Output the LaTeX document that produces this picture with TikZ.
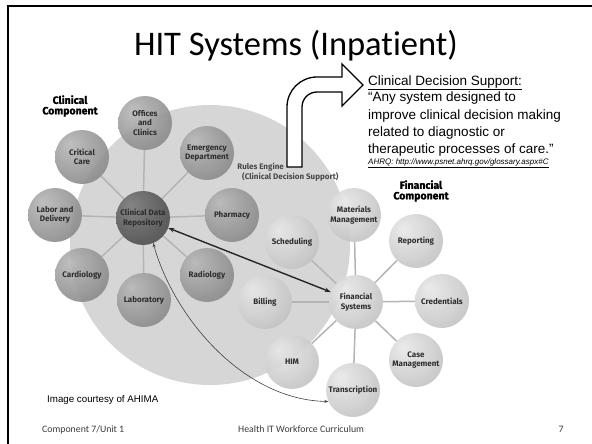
\documentclass[tikz,border=0pt]{standalone}
\usepackage{fontspec}
\setmainfont{Liberation Sans}
\newfontfamily\calibri{Carlito}[Ligatures=NoCommon]
\newfontfamily\ballfont{Fira Sans}
\newfontfamily\headfont{Fira Sans}[BoldFeatures={FakeBold=1.5}]
\usetikzlibrary{arrows.meta,backgrounds}
\definecolor{bigc}{HTML}{D6D6D6}
\definecolor{spokec}{HTML}{B4B4B4}
\definecolor{clinA}{HTML}{B8B8B8}
\definecolor{clinB}{HTML}{969696}
\definecolor{clinC}{HTML}{6C6C6C}
\definecolor{finA}{HTML}{E8E8E8}
\definecolor{finB}{HTML}{CDCDCD}
\definecolor{finC}{HTML}{A8A8A8}
\definecolor{cdrA}{HTML}{7C7C7C}
\definecolor{cdrB}{HTML}{585858}
\definecolor{cdrC}{HTML}{343434}
\definecolor{lbl}{HTML}{2E2E2E}
\definecolor{foot}{HTML}{3A3A3A}
\pgfdeclareradialshading{clinshade}{\pgfpoint{-12bp}{12bp}}{color(0bp)=(clinA); color(25bp)=(clinB); color(55bp)=(clinC); color(75bp)=(clinC)}
\pgfdeclareradialshading{finshade}{\pgfpoint{-12bp}{12bp}}{color(0bp)=(finA); color(25bp)=(finB); color(55bp)=(finC); color(75bp)=(finC)}
\pgfdeclareradialshading{cdrshade}{\pgfpoint{-12bp}{12bp}}{color(0bp)=(cdrA); color(25bp)=(cdrB); color(55bp)=(cdrC); color(75bp)=(cdrC)}
\tikzset{
  ball/.style={circle, minimum size=54pt, inner sep=0pt, align=center,
    font=\ballfont\bfseries\fontsize{8}{9.5}\selectfont, text=lbl,
    shade, shading=clinshade, fill opacity=0.9, text opacity=1},
  finball/.style={ball, shading=finshade},
  cdrball/.style={ball, shading=cdrshade},
  spoke/.style={draw=spokec, line width=1.5pt},
  heading/.style={align=center, inner sep=0pt, text=black,
    font=\headfont\bfseries\fontsize{10.5}{10.5}\selectfont},
  rules/.style={inner sep=0pt, text=black!72,
    font=\ballfont\bfseries\fontsize{8}{9}\selectfont},
  cds/.style={anchor=base west, inner sep=0pt, font=\fontsize{13.5}{16}\selectfont},
  footer/.style={anchor=base, inner sep=0pt, text=foot, font=\calibri\fontsize{9.8}{11}\selectfont},
  blockarrow/.style={draw=black, fill=white, line width=1.3pt, line join=miter}
}
\begin{document}
\begin{tikzpicture}[x=1pt,y=-1pt]
\useasboundingbox (0,0) rectangle (592,444);
% slide frame
\coordinate (fa) at (8,450);
\coordinate (fb) at (8,6);
\coordinate (fc) at (600,6);
\draw[line width=2pt] (fa) -- (fb) -- (fc);
% title
\node[anchor=base, inner sep=0pt, font=\calibri\fontsize{34.5}{38}\selectfont] (title) at (296,56) {HIT Systems (Inpatient)};
% clinical balls
\node[ball] (offices) at (145,123) {Offices\\and\\Clinics};
\node[ball] (critical) at (82,157) {Critical\\Care};
\node[ball] (emergency) at (207,153) {Emergency\\Department};
\node[ball] (labor) at (55,215) {Labor and\\Delivery};
\node[cdrball] (cdr) at (143,218) {Clinical Data\\Repository};
\node[ball] (pharmacy) at (232,215) {Pharmacy};
\node[ball] (cardiology) at (82,275) {Cardiology};
\node[ball] (laboratory) at (144,300) {Laboratory};
\node[ball] (radiology) at (207,275) {Radiology};
% financial balls
\node[finball] (scheduling) at (292,242) {Scheduling};
\node[finball] (billing) at (265,302) {Billing};
\node[finball] (materials) at (354,215) {Materials\\Management};
\node[finball] (reporting) at (416,241) {Reporting};
\node[finball] (fin) at (356,302) {Financial\\Systems};
\node[finball] (credentials) at (442,301) {Credentials};
\node[finball] (him) at (292,362) {HIM};
\node[finball] (casemgmt) at (416,360) {Case\\Management};
\node[finball] (transcription) at (353,390) {Transcription};
% background circle and spokes
\begin{scope}[on background layer]
  \fill[bigc] (210,245) circle[radius=140];
  \foreach \n in {offices,critical,emergency,labor,pharmacy,cardiology,laboratory,radiology}
    \draw[spoke] (cdr) -- (\n);
  \foreach \n in {scheduling,billing,materials,reporting,credentials,him,casemgmt,transcription}
    \draw[spoke] (fin) -- (\n);
\end{scope}
% headings
\node[heading] (clinhead) at (70,106) {Clinical\\Component};
\node[heading] (finhead) at (421,191) {Financial\\Component};
\node[rules, anchor=base east] (rules1) at (284,169) {Rules Engine};
\node[rules, anchor=base west] (rules2) at (242,179) {(Clinical Decision Support)};
% arrows between repositories
\draw[{Stealth[length=6pt,width=4.5pt]}-{Stealth[length=6pt,width=4.5pt]}, line width=1.4pt, draw=black!85] (cdr) -- (fin);
\draw[{Stealth[length=4pt,width=3pt]}-{Stealth[length=4pt,width=3pt]}, line width=0.6pt, draw=black!75] (cdr.-68) .. controls (175,320) and (245,400) .. (transcription.205);
% block arrow callout
\draw[blockarrow] (287,167) -- (287,107) .. controls (287,90.4) and (300.4,77) .. (317,77)
  -- (342,77) -- (342,64) -- (363,85) -- (342,106) -- (342,92) -- (317,92)
  .. controls (308.7,92) and (302,98.7) .. (302,107) -- (302,167) -- cycle;
% definition text
\node[cds] (cds1) at (368,85) {\underline{Clinical Decision Support:}};
\node[cds] (cds2) at (368,102) {“Any system designed to};
\node[cds] (cds3) at (368,119) {improve clinical decision making};
\node[cds] (cds4) at (368,136) {related to diagnostic or};
\node[cds] (cds5) at (368,153) {therapeutic processes of care.”};
\node[anchor=base west, inner sep=0pt, font=\itshape\fontsize{8}{9}\selectfont] (src) at (368,164) {\underline{AHRQ: http://www.psnet.ahrq.gov/glossary.aspx\#C}};
% credits and footer
\node[anchor=base west, inner sep=0pt, font=\fontsize{9.75}{11}\selectfont] (credit) at (47,402) {Image courtesy of AHIMA};
\node[footer, anchor=base west] (f1) at (42,432) {Component 7/Unit 1};
\node[footer, anchor=base west] (f2) at (238,432) {Health IT Workforce Curriculum};
\node[footer] (f3) at (561,432) {7};
\end{tikzpicture}
\end{document}
